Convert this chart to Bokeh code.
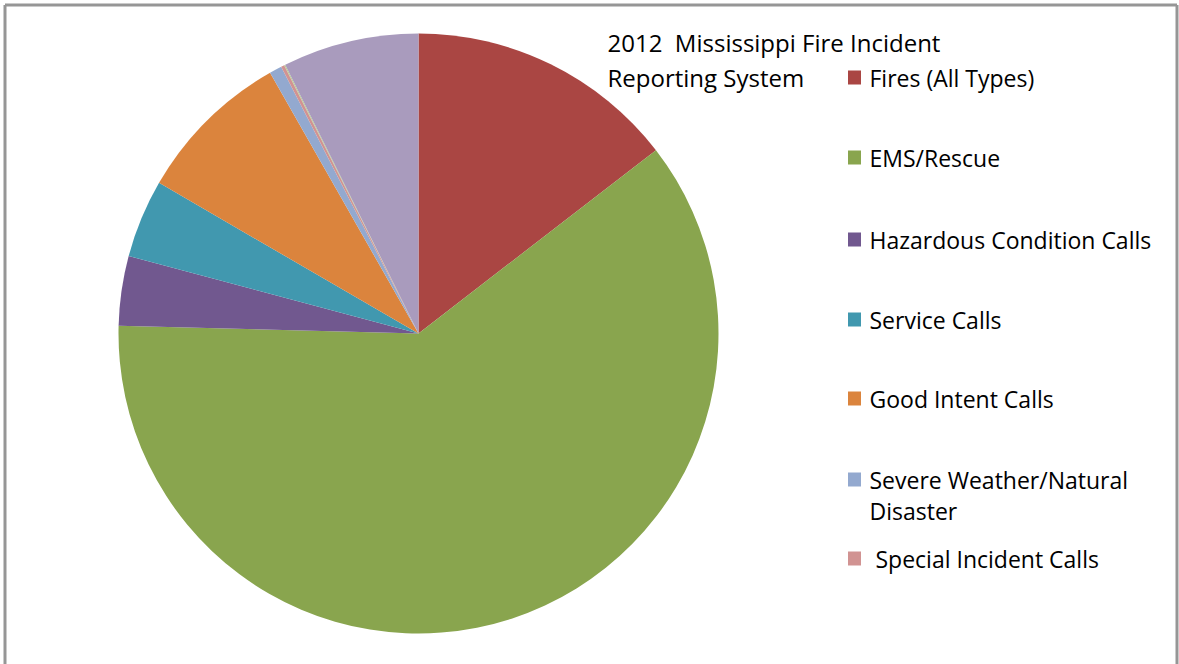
import math
from bokeh.plotting import figure
from bokeh.models import Range1d, ColumnDataSource
from bokeh.core.properties import value
from bokeh.embed import file_html
from bokeh.resources import INLINE

# ---- data (percent of incidents) ----
categories = ["Fires (All Types)", "EMS/Rescue", "Hazardous Condition Calls",
              "Service Calls", "Good Intent Calls", "Severe Weather/Natural\nDisaster",
              "\u00a0Special Incident Calls", "Overpressure Rupture/Explosion",
              "False Alarm & False Call"]
shares = [14.54, 60.89, 3.74, 4.22, 8.39, 0.67, 0.18, 0.06, 7.33]
colors = ["#AA4643", "#89A54E", "#71588F", "#4198AF", "#DB843D",
          "#93A9CF", "#D19392", "#B9CD96", "#A99BBD"]
legend_count = 7   # legend is cut off after the 7th entry in the original
title_lines = ["2012\u00a0 Mississippi Fire Incident", "Reporting System"]

FONT = "Open Sans"
W, H = 1179, 664

p = figure(width=W, height=H, output_backend="svg", toolbar_location=None,
           x_range=Range1d(0, W), y_range=Range1d(0, H),
           min_border=0)
p.axis.visible = False
p.grid.visible = False
p.outline_line_color = None
p.background_fill_color = "white"


def Y(py):
    return H - py


# pie
total = sum(shares)
starts, ends = [], []
cum = 0.0
for s in shares:
    a0 = math.pi / 2 - 2 * math.pi * cum / total
    cum += s
    a1 = math.pi / 2 - 2 * math.pi * cum / total
    starts.append(a0)
    ends.append(a1)
src = ColumnDataSource(dict(start=starts, end=ends, color=colors, name=categories, share=shares))
p.wedge(x=418, y=Y(333), radius=300, start_angle="start", end_angle="end",
        direction="clock", fill_color="color", line_color=None, source=src)

# chart border (left, top, right sides visible)
p.multi_line(xs=[[4.5, 4.5], [4.5, 1176.5], [1176.5, 1176.5]],
             ys=[[Y(H), Y(4.5)], [Y(4.5), Y(4.5)], [Y(4.5), Y(H)]],
             line_color="#969696", line_width=3)

# title
p.text(x=[607, 607], y=[Y(42), Y(77)], text=title_lines,
       text_font=value(FONT), text_font_size="24px", text_color="#000000",
       text_baseline="middle", text_align="left")

# legend
sq_x = 854
row_y = [77, 157, 239, 319, 398, 479, 558]
line_gap = 31
lx, ly, lc, ltxt, ltx, lty = [], [], [], [], [], []
for i in range(legend_count):
    cy = row_y[i]
    lx.append(sq_x)
    ly.append(Y(cy))
    lc.append(colors[i])
    for k, part in enumerate(categories[i].split("\n")):
        ltxt.append(part)
        ltx.append(869)
        lty.append(Y(cy + k * line_gap))
p.rect(x=lx, y=ly, width=13, height=14, fill_color=lc, line_color=None)
p.text(x=ltx, y=lty, text=ltxt, text_font=value(FONT), text_font_size="23px",
       text_color="#000000", text_baseline="middle", text_align="left")

open("out.html", "w").write(file_html(p, INLINE))
